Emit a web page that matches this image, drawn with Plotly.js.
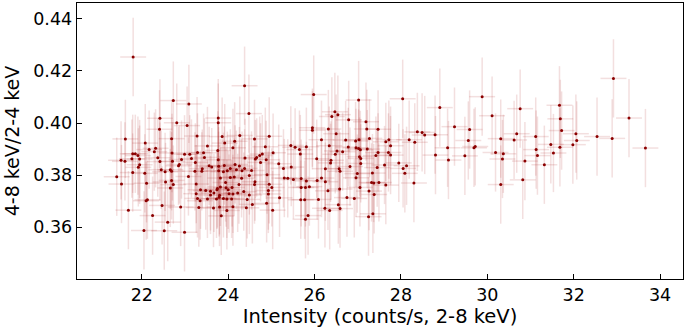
<!DOCTYPE html>
<html>
<head>
<meta charset="utf-8">
<script src="https://cdn.plot.ly/plotly-3.0.1.min.js"></script>
<style>html,body{margin:0;padding:0;background:#fff;}#chart{width:684px;height:336px;}</style>
</head>
<body>
<div id="chart"></div>
<script>
// Intensity (counts/s, 2-8 keV)
const intensity = [
22.73,23.09,22.42,22.81,23.05,22.41,23.28,22.69,21.62,22.08,23.52,22.32,22.17,22.29,23.76,22.70,23.29,23.43,21.79,21.85,
21.91,22.99,23.11,22.37,21.77,21.95,22.92,23.15,23.45,23.77,21.52,21.61,22.42,22.71,22.87,22.85,23.24,21.95,23.56,23.62,
23.78,23.40,21.92,22.45,22.54,22.66,22.69,23.23,23.39,23.78,21.79,22.07,21.42,23.08,22.69,22.55,22.11,21.53,22.73,23.26,
22.66,23.36,23.48,23.59,23.74,23.26,23.59,23.67,23.79,23.29,23.35,23.52,22.10,22.13,22.47,22.90,23.32,23.66,23.80,21.69,
22.25,22.60,22.05,22.52,22.99,
23.77,24.48,23.77,25.98,23.86,23.92,24.27,24.61,24.95,24.15,24.11,24.86,25.45,25.55,25.65,25.81,25.04,25.67,24.79,24.73,
24.66,24.63,24.39,24.88,24.75,25.17,24.16,23.91,25.28,25.46,26.05,24.26,24.19,24.32,24.38,24.54,23.98,24.05,23.89,24.49,
24.90,25.30,25.38,25.51,25.69,25.81,26.06,23.82,24.05,24.14,24.31,23.94,24.25,24.61,24.62,24.95,23.82,23.95,24.09,23.75,
25.69,25.79,25.88,24.00,24.02,24.36,24.49,24.93,25.01,24.93,23.80,24.11,24.22,23.73,23.89,23.97,24.08,24.44,25.19,25.68,
25.77,26.09,24.56,24.89,24.11,24.42,25.03,23.84,23.97,25.85,25.79,
27.02,28.04,26.47,26.54,26.40,26.79,27.19,25.95,25.95,26.32,27.21,27.47,26.50,28.38,26.16,26.72,26.95,27.03,27.27,27.65,
27.72,28.19,28.32,26.34,26.78,26.96,27.02,27.06,27.22,27.76,26.52,26.65,26.48,27.47,27.71,27.42,27.76,27.04,27.07,26.38,
26.37,27.07,26.82,27.95,28.13,28.05,27.45,27.62,26.25,26.57,26.59,27.34,26.99,28.09,26.96,26.16,26.25,27.49,27.37,27.32,
27.65,28.30,27.05,26.58,27.26,26.31,27.38,26.75,26.92,26.55,26.24,26.35,26.59,27.35,27.25,
29.88,28.90,30.11,30.76,29.24,29.59,28.49,28.55,28.79,29.56,30.31,30.68,30.62,31.12,29.08,29.72,29.69,30.19,30.37,31.13,
28.80,29.10,29.48,30.35,30.87,31.16,31.32,30.31,30.82,
32.92,31.67,33.28,31.69,31.72,32.05,32.54,32.89,32.07,31.47,31.68,31.98,33.66,31.53,
21.80,24.38
];
// Hardness ratio 4-8 keV / 2-4 keV
const hardness = [
0.4086,0.4073,0.4018,0.4001,0.3990,0.3976,0.3950,0.3940,0.3939,0.3923,0.3912,0.3903,0.3898,0.3890,0.3895,0.3885,0.3887,0.3886,0.3882,0.3882,
0.3875,0.3880,0.3880,0.3867,0.3863,0.3862,0.3860,0.3864,0.3868,0.3859,0.3857,0.3853,0.3852,0.3853,0.3841,0.3836,0.3849,0.3840,0.3836,0.3831,
0.3834,0.3825,0.3830,0.3821,0.3813,0.3821,0.3815,0.3815,0.3815,0.3817,0.3810,0.3807,0.3794,0.3795,0.3780,0.3774,0.3769,0.3766,0.3764,0.3766,
0.3751,0.3744,0.3741,0.3738,0.3744,0.3729,0.3724,0.3732,0.3715,0.3711,0.3702,0.3709,0.3702,0.3706,0.3684,0.3678,0.3676,0.3674,0.3678,0.3666,
0.3645,0.3620,0.3588,0.3587,0.3581,
0.4019,0.4036,0.4001,0.4109,0.3948,0.3923,0.3952,0.3939,0.3949,0.3930,0.3905,0.3909,0.3914,0.3907,0.3898,0.3909,0.3886,0.3881,0.3881,0.3875,
0.3868,0.3862,0.3866,0.3859,0.3849,0.3844,0.3841,0.3837,0.3826,0.3831,0.3863,0.3835,0.3821,0.3817,0.3826,0.3818,0.3817,0.3826,0.3813,0.3799,
0.3802,0.3789,0.3788,0.3783,0.3787,0.3778,0.3780,0.3789,0.3791,0.3793,0.3788,0.3772,0.3764,0.3764,0.3775,0.3765,0.3755,0.3752,0.3753,0.3749,
0.3753,0.3753,0.3756,0.3744,0.3729,0.3737,0.3724,0.3741,0.3753,0.3728,0.3723,0.3728,0.3732,0.3709,0.3711,0.3709,0.3709,0.3707,0.3713,0.3706,
0.3706,0.3707,0.3688,0.3692,0.3679,0.3675,0.3666,0.3644,0.3665,0.3645,0.3631,
0.4088,0.4093,0.4043,0.4032,0.4025,0.4012,0.4005,0.3982,0.3972,0.3977,0.3977,0.3976,0.3959,0.3966,0.3936,0.3935,0.3931,0.3936,0.3941,0.3928,
0.3936,0.3936,0.3926,0.3913,0.3908,0.3905,0.3902,0.3897,0.3900,0.3913,0.3893,0.3890,0.3880,0.3887,0.3887,0.3875,0.3877,0.3871,0.3864,0.3857,
0.3847,0.3845,0.3833,0.3847,0.3836,0.3826,0.3829,0.3839,0.3825,0.3825,0.3815,0.3808,0.3806,0.3807,0.3790,0.3789,0.3775,0.3772,0.3770,0.3772,
0.3762,0.3770,0.3753,0.3747,0.3739,0.3740,0.3726,0.3714,0.3711,0.3687,0.3673,0.3665,0.3672,0.3652,0.3641,
0.4101,0.4059,0.4028,0.4055,0.3986,0.3975,0.3964,0.3954,0.3955,0.3933,0.3940,0.3959,0.3935,0.3948,0.3905,0.3910,0.3905,0.3887,0.3882,0.3898,
0.3877,0.3858,0.3874,0.3862,0.3854,0.3875,0.3840,0.3764,0.3782,
0.4171,0.4068,0.4019,0.4016,0.3971,0.3959,0.3948,0.3941,0.3933,0.3918,0.3907,0.3917,0.3904,0.3885,
0.4253,0.4143
];
const intensityErr = 0.3;
const hardnessErr = 0.015;

const FONT = 'DejaVu Sans, sans-serif';
const trace = {
  x: intensity, y: hardness, type: 'scatter', mode: 'markers',
  marker: {color: '#8b0000', size: 3, line: {width: 0}},
  error_x: {type: 'constant', value: intensityErr, color: 'rgba(170,25,25,0.14)', thickness: 1.5, width: 0},
  error_y: {type: 'constant', value: hardnessErr, color: 'rgba(170,25,25,0.14)', thickness: 1.5, width: 0},
  hoverinfo: 'skip'
};
const layout = {
  width: 684, height: 336,
  margin: {l: 77, r: 1, t: 3, b: 57},
  paper_bgcolor: '#fff', plot_bgcolor: '#fff',
  showlegend: false,
  font: {family: FONT, color: '#000', size: 17},
  xaxis: {
    range: [20.5, 34.53], tickvals: [22,24,26,28,30,32,34], ticktext: ['22','24','26','28','30','32','34'],
    ticks: 'inside', ticklen: 5, tickwidth: 1, tickcolor: '#000',
    showline: true, mirror: true, linecolor: '#000', linewidth: 1.3,
    showgrid: false, zeroline: false,
    tickfont: {family: FONT, size: 17.5, color: '#000'},
    title: {text: 'Intensity (counts/s, 2-8 keV)', font: {family: FONT, size: 19.5, color: '#000'}, standoff: 5}
  },
  yaxis: {
    range: [0.3402, 0.446], tickvals: [0.36,0.38,0.40,0.42,0.44], ticktext: ['0.36','0.38','0.40','0.42','0.44'],
    ticks: 'inside', ticklen: 5, tickwidth: 1, tickcolor: '#000',
    showline: true, mirror: true, linecolor: '#000', linewidth: 1.3,
    showgrid: false, zeroline: false,
    tickfont: {family: FONT, size: 17.5, color: '#000'},
    title: {text: '4-8 keV/2-4 keV', font: {family: FONT, size: 19, color: '#000'}, standoff: 8}
  }
};
Plotly.newPlot('chart', [trace], layout, {staticPlot: true, displayModeBar: false});
</script>
</body>
</html>
